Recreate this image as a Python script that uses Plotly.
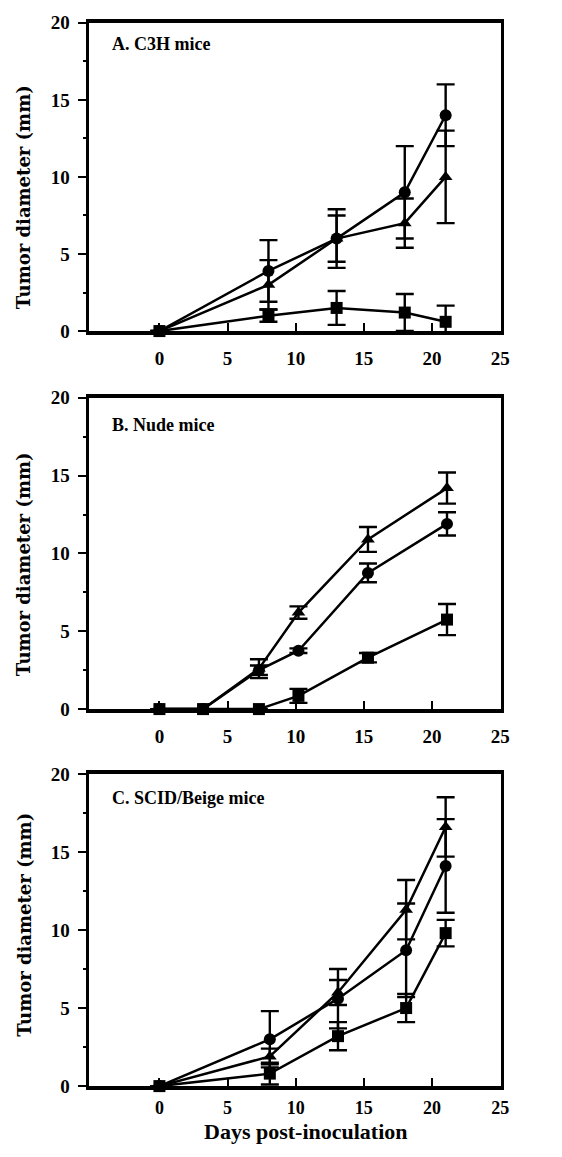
import plotly.graph_objects as go

# ---------------- data ----------------
# Panel A: C3H mice
days_A = [0, 8, 13, 18, 21]
circle_A = [0, 3.9, 6.0, 9.0, 14.0]
circle_A_err = [0, 2.0, 1.9, 3.0, 2.0]
triangle_A = [0, 3.0, 6.0, 7.0, 10.0]
triangle_A_err = [0, 1.6, 1.5, 1.6, 3.0]
square_A = [0, 1.0, 1.5, 1.2, 0.6]
square_A_err = [0, 0.4, 1.1, 1.2, 1.05]

# Panel B: Nude mice
days_B = [0, 3.2, 7.3, 10.2, 15.3, 21.1]
triangle_B = [0, 0, 2.6, 6.2, 10.9, 14.2]
triangle_B_err = [0, 0, 0.6, 0.4, 0.8, 1.0]
circle_B = [0, 0, 2.5, 3.75, 8.75, 11.9]
circle_B_err = [0, 0, 0.3, 0.15, 0.6, 0.75]
square_B = [0, 0, 0, 0.85, 3.3, 5.75]
square_B_err = [0, 0, 0, 0.45, 0.3, 1.0]

# Panel C: SCID/Beige mice
days_C = [0, 8.1, 13.1, 18.1, 21.0]
triangle_C = [0, 1.9, 6.0, 11.3, 16.6]
triangle_C_err = [0, 0.5, 0.8, 1.9, 1.9]
circle_C = [0, 3.0, 5.6, 8.7, 14.1]
circle_C_err = [0, 1.8, 1.9, 3.0, 3.0]
square_C = [0, 0.8, 3.2, 5.0, 9.8]
square_C_err = [0, 0.7, 0.9, 0.9, 0.85]

panel_titles = ["A. C3H mice", "B. Nude mice", "C. SCID/Beige mice"]
x_ticks = [0, 5, 10, 15, 20, 25]
y_ticks = [0, 5, 10, 15, 20]
y_title = "Tumor diameter (mm)"
x_title = "Days post-inoculation"

# ---------------- layout helpers ----------------
W, H = 562, 1157
def px(x):
    return x / W
def py(y):
    return 1 - y / H

panels = [
    dict(days=days_A, series=[(circle_A, circle_A_err, "circle"),
                              (triangle_A, triangle_A_err, "triangle-up"),
                              (square_A, square_A_err, "square")],
         top=13, bottom=327, title_y=35, ytitle_c=191, standoff=7),
    dict(days=days_B, series=[(triangle_B, triangle_B_err, "triangle-up"),
                              (circle_B, circle_B_err, "circle"),
                              (square_B, square_B_err, "square")],
         top=395, bottom=712, title_y=423, ytitle_c=565, standoff=7),
    dict(days=days_C, series=[(triangle_C, triangle_C_err, "triangle-up"),
                              (circle_C, circle_C_err, "circle"),
                              (square_C, square_C_err, "square")],
         top=778, bottom=1096, title_y=803, ytitle_c=932, standoff=3),
]
marker_size = {"circle": 12, "triangle-up": 12, "square": 12}

fig = go.Figure()
serif = "Liberation Serif"
annotations = []
layout_axes = {}
for i, p in enumerate(panels):
    n = i + 1
    xa = "x" if n == 1 else f"x{n}"
    ya = "y" if n == 1 else f"y{n}"
    for vals, errs, sym in p["series"]:
        fig.add_trace(go.Scatter(
            x=p["days"], y=vals, xaxis=xa, yaxis=ya,
            mode="lines+markers",
            line=dict(color="black", width=2.5),
            marker=dict(symbol=sym, size=marker_size[sym], color="black"),
            error_y=dict(type="data", array=errs, visible=True,
                         color="black", thickness=2.4, width=9),
            showlegend=False, cliponaxis=False,
        ))
    xkey = "xaxis" if n == 1 else f"xaxis{n}"
    ykey = "yaxis" if n == 1 else f"yaxis{n}"
    layout_axes[xkey] = dict(
        domain=[px(90), px(509)], anchor=ya, range=[-5.2, 25.05],
        tickvals=x_ticks, ticktext=[str(t) for t in x_ticks],
        ticks="inside", ticklen=8, tickwidth=2, tickcolor="black",
        showline=True, linewidth=3.5, linecolor="black", mirror=True,
        showgrid=False, zeroline=False, ticklabelstandoff=p["standoff"],
        tickfont=dict(family=serif, size=19 if n < 3 else 18,
                      color="black", weight="bold"),
    )
    layout_axes[ykey] = dict(
        domain=[py(p["bottom"]), py(p["top"])], anchor=xa, range=[0, 20],
        tickvals=y_ticks, ticks="outside", ticklen=8, tickwidth=2,
        tickcolor="black",
        minor=dict(dtick=2.5, tick0=0, ticks="outside", ticklen=3,
                   tickwidth=1.5, tickcolor="black"),
        showline=True, linewidth=3, linecolor="black", mirror=True,
        showgrid=False, zeroline=False, ticklabelstandoff=4,
        tickfont=dict(family=serif, size=19, color="black", weight="bold"),
    )
    annotations.append(dict(
        text=panel_titles[i], xref="paper", yref="paper",
        x=px(112), y=py(p["title_y"]), xanchor="left", yanchor="middle",
        showarrow=False,
        font=dict(family=serif, size=18, color="black", weight="bold"),
    ))
    annotations.append(dict(
        text=y_title, xref="paper", yref="paper", textangle=-90,
        x=px(24), y=py(p["ytitle_c"]), xanchor="center", yanchor="middle",
        showarrow=False,
        font=dict(family="DejaVu Serif", size=18, color="black", weight="bold"),
    ))

annotations.append(dict(
    text=x_title, xref="paper", yref="paper",
    x=px(311), y=0, xanchor="center", yanchor="bottom",
    showarrow=False,
    font=dict(family=serif, size=22, color="black", weight="bold"),
))

fig.update_layout(
    width=W, height=H, autosize=False,
    margin=dict(l=0, r=0, t=0, b=0),
    paper_bgcolor="white", plot_bgcolor="white",
    annotations=annotations,
    **layout_axes,
)

fig.write_html("out.html")
